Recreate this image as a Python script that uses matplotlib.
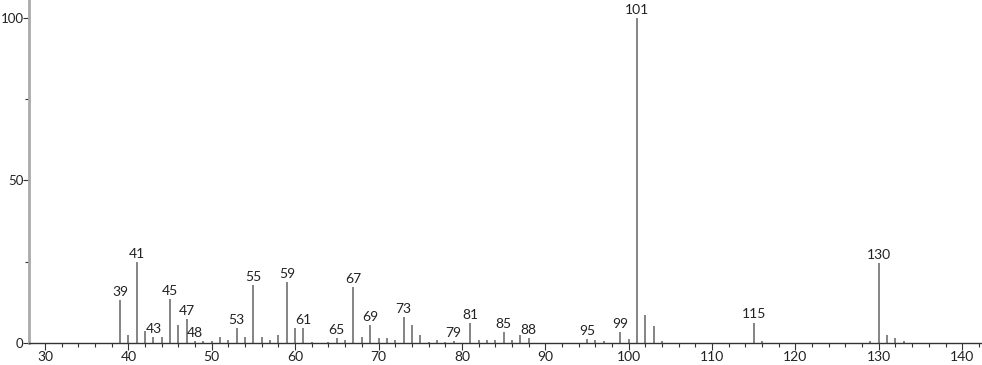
import matplotlib
matplotlib.use("Agg")
import matplotlib.pyplot as plt
from matplotlib.ticker import MultipleLocator

# mass spectrum peaks (m/z, relative abundance)
mz = [39, 40, 41, 42, 43, 44, 45, 46, 47, 48, 49, 50, 51, 52, 53, 54, 55,
      56, 57, 58, 59, 60, 61, 62, 64, 65, 66, 67, 68, 69, 70, 71, 72, 73,
      74, 75, 76, 77, 78, 79, 81, 82, 83, 84, 85, 86, 87, 88, 95, 96, 97,
      99, 100, 101, 102, 103, 104, 115, 116, 129, 130, 131, 132, 133]
abundance = [13.2, 2.5, 25.0, 3.8, 1.9, 1.9, 13.4, 5.4, 7.4, 0.6, 0.5, 0.7,
             1.7, 0.9, 4.5, 1.7, 17.7, 1.9, 0.9, 2.5, 18.8, 4.5, 4.5, 0.3,
             0.3, 1.4, 0.9, 17.1, 1.7, 5.5, 1.4, 1.4, 0.8, 8.1, 5.5, 2.5,
             0.3, 0.8, 0.3, 0.5, 6.1, 0.9, 0.9, 0.9, 3.4, 0.9, 2.5, 1.6,
             1.2, 0.9, 0.6, 3.4, 1.2, 100.0, 8.6, 5.2, 0.6, 6.3, 0.6, 0.6,
             24.5, 2.5, 1.6, 0.6]
labeled = [39, 41, 43, 45, 47, 48, 53, 55, 59, 61, 65, 67, 69, 73, 79, 81,
           85, 88, 95, 99, 101, 115, 130]
xticks = [30, 40, 50, 60, 70, 80, 90, 100, 110, 120, 130, 140]
yticks = [0, 50, 100]

plt.rcParams['font.family'] = ['Lato', 'DejaVu Sans']

fig = plt.figure(figsize=(9.82, 3.65), dpi=100)
ax = fig.add_axes([0.0295, 0.0603, 0.969, 0.9397])

ax.vlines(mz, 0, abundance, color='#707070', linewidth=1.2)

for m, a in zip(mz, abundance):
    if m in labeled:
        ax.annotate(str(m), (m, a), xytext=(0, 1.5), textcoords='offset points',
                    ha='center', va='bottom', fontsize=10, color='#222222')

ax.set_xlim(28.08, 142.2)
ax.set_ylim(0, 105.5)
ax.set_xticks(xticks)
ax.set_yticks(yticks)
ax.xaxis.set_minor_locator(MultipleLocator(2))
ax.yaxis.set_minor_locator(MultipleLocator(25))

ax.tick_params(axis='x', which='major', length=5, width=0.8, color='#333333',
               labelsize=10, pad=1, labelcolor='#222222')
ax.tick_params(axis='x', which='minor', length=3, width=0.8, color='#333333')
ax.tick_params(axis='y', which='major', length=4, width=0.8, color='#333333',
               labelsize=9.5, pad=0, labelcolor='#222222')
ax.tick_params(axis='y', which='minor', length=3, width=0.8, color='#333333')

ax.spines['top'].set_visible(False)
ax.spines['right'].set_visible(False)
ax.spines['left'].set_color('#aaaaaa')
ax.spines['left'].set_linewidth(2)
ax.spines['bottom'].set_color('#333333')
ax.spines['bottom'].set_linewidth(1)

fig.savefig('out.png', dpi=100)
